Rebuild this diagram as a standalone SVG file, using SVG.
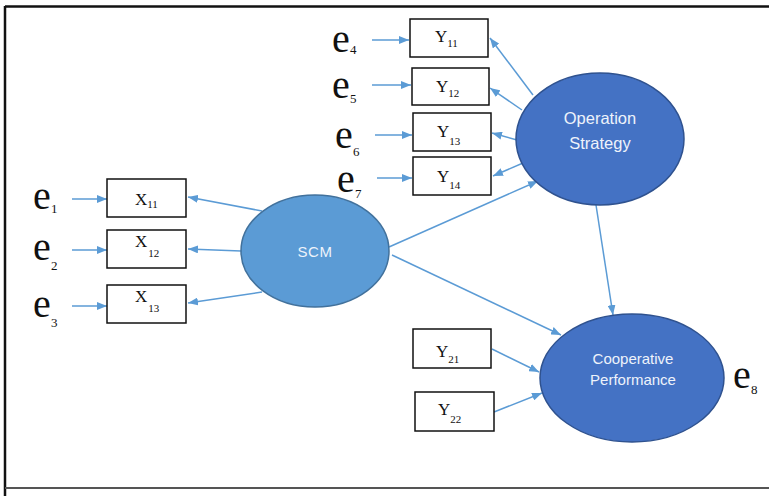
<svg xmlns="http://www.w3.org/2000/svg" width="769" height="496" viewBox="0 0 769 496">
<defs>
<marker id="ah" markerUnits="userSpaceOnUse" markerWidth="10" markerHeight="8" refX="10" refY="4" orient="auto">
<path d="M0,0 L10,4 L0,8 z" fill="#5B9BD5"/>
</marker>
<style>
.c line{stroke:#5B9BD5;stroke-width:1.5;marker-end:url(#ah)}
.box{fill:#fff;stroke:#111;stroke-width:1.5}
.lab{font-family:"Liberation Serif","Times New Roman",serif;font-size:17px;fill:#111}
.sub{font-size:11px}
.e{font-family:"Liberation Serif","Times New Roman",serif;font-size:40px;fill:#111}
.es{font-family:"Liberation Serif","Times New Roman",serif;font-size:13px;fill:#111}
.lv1{fill:#5B9BD5;stroke:#41719C;stroke-width:1.5}
.lv2{fill:#4472C4;stroke:#2F528F;stroke-width:1.5}
.lt{font-family:"Liberation Sans",Arial,sans-serif;fill:#eef3fb;text-anchor:middle}
</style>
</defs>
<rect width="769" height="496" fill="#fff"/>
<g id="frame">
<line x1="5" y1="6.5" x2="769" y2="6.5" stroke="#111" stroke-width="2.5"/>
<line x1="5" y1="6" x2="5" y2="496" stroke="#111" stroke-width="2.5"/>
<line x1="5" y1="488" x2="769" y2="488" stroke="#555" stroke-width="2"/>
</g>
<g class="c" id="connectors">
<line x1="72" y1="199" x2="107" y2="199"/>
<line x1="72" y1="250" x2="107" y2="250"/>
<line x1="72" y1="306" x2="107" y2="306"/>
<line x1="262" y1="211" x2="188" y2="197"/>
<line x1="241" y1="251" x2="188" y2="249"/>
<line x1="262" y1="292" x2="188" y2="303"/>
<line x1="372" y1="40" x2="409" y2="40"/>
<line x1="372" y1="85" x2="411" y2="85"/>
<line x1="375" y1="135" x2="412" y2="135"/>
<line x1="377" y1="178" x2="412" y2="178"/>
<line x1="533" y1="95" x2="490" y2="38"/>
<line x1="522" y1="110" x2="490" y2="88"/>
<line x1="517" y1="140" x2="492" y2="133"/>
<line x1="523" y1="163" x2="493" y2="176"/>
<line x1="389" y1="247" x2="538" y2="181"/>
<line x1="392" y1="255" x2="561" y2="335"/>
<line x1="596" y1="205" x2="613" y2="315"/>
<line x1="492" y1="349" x2="539" y2="372"/>
<line x1="494" y1="412" x2="542" y2="393"/>
</g>
<g id="X11"><rect class="box" x="107" y="179" width="79" height="38"/><text class="lab" x="135" y="205">X<tspan class="sub" dy="3">11</tspan></text></g>
<g id="X12"><rect class="box" x="107" y="230" width="79" height="38"/><text class="lab" x="135" y="247">X<tspan class="sub" dx="1" dy="10" font-size="13">12</tspan></text></g>
<g id="X13"><rect class="box" x="107" y="285" width="79" height="38"/><text class="lab" x="135" y="302">X<tspan class="sub" dx="1" dy="10" font-size="13">13</tspan></text></g>
<g id="Y11"><rect class="box" x="410" y="19" width="78" height="38"/><text class="lab" x="435" y="42">Y<tspan class="sub" dy="5">11</tspan></text></g>
<g id="Y12"><rect class="box" x="412" y="68" width="77" height="37"/><text class="lab" x="436" y="92">Y<tspan class="sub" dy="5">12</tspan></text></g>
<g id="Y13"><rect class="box" x="413" y="113" width="78" height="38"/><text class="lab" x="437" y="137">Y<tspan class="sub" dy="8" font-size="12">13</tspan></text></g>
<g id="Y14"><rect class="box" x="413" y="157" width="78" height="38"/><text class="lab" x="437" y="182">Y<tspan class="sub" dy="7" font-size="12">14</tspan></text></g>
<g id="Y21"><rect class="box" x="413" y="329" width="78" height="39"/><text class="lab" x="436" y="357">Y<tspan class="sub" dy="6" font-size="12">21</tspan></text></g>
<g id="Y22"><rect class="box" x="415" y="392" width="79" height="39"/><text class="lab" x="438" y="415">Y<tspan class="sub" dy="8" font-size="12">22</tspan></text></g>
<g id="SCM"><ellipse class="lv1" cx="315" cy="251" rx="74" ry="56"/><text class="lt" x="315" y="257" font-size="15" letter-spacing="0.5">SCM</text></g>
<g id="OperationStrategy"><ellipse class="lv2" cx="600" cy="139" rx="84" ry="66"/><text class="lt" x="600" y="124" font-size="16.5">Operation</text><text class="lt" x="600" y="149" font-size="16.5">Strategy</text></g>
<g id="CooperativePerformance"><ellipse class="lv2" cx="632" cy="378" rx="92" ry="64"/><text class="lt" x="633" y="364" font-size="15">Cooperative</text><text class="lt" x="633" y="385" font-size="15">Performance</text></g>
<g id="errors">
<text class="e" x="33" y="209" font-size="36">e</text><text class="es" x="51" y="213" font-size="9">1</text>
<text class="e" x="33" y="260">e</text><text class="es" x="51" y="270">2</text>
<text class="e" x="33" y="317">e</text><text class="es" x="51" y="327">3</text>
<text class="e" x="332" y="52">e</text><text class="es" x="350" y="54" font-size="9">4</text>
<text class="e" x="332" y="98">e</text><text class="es" x="350" y="103" font-size="11">5</text>
<text class="e" x="335" y="148">e</text><text class="es" x="353" y="156">6</text>
<text class="e" x="337" y="192">e</text><text class="es" x="355" y="198">7</text>
<text class="e" x="733" y="388">e</text><text class="es" x="751" y="394">8</text>
</g>
</svg>
